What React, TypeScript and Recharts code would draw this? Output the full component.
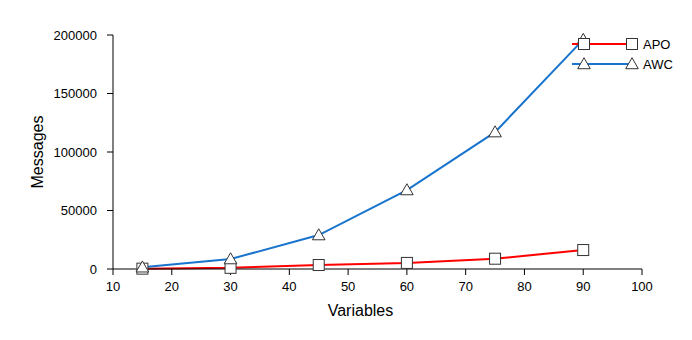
import React from 'react';
import { LineChart, Line, XAxis, YAxis, Legend } from 'recharts';

const variables = [15, 30, 45, 60, 75, 90];
const apoMessages = [300, 1000, 3400, 5200, 8800, 16200];
const awcMessages = [1500, 8500, 29000, 67500, 117000, 196000];
const xTicks = [10, 20, 30, 40, 50, 60, 70, 80, 90, 100];
const yTicks = [0, 50000, 100000, 150000, 200000];

const RED = '#ff0000';
const BLUE = '#1874cd';
const MARK = '#333333';
const FONT = '"Liberation Sans", Arial, sans-serif';

const data = variables.map((v, i) => ({ v, apo: apoMessages[i], awc: awcMessages[i] }));

function Square({ cx, cy }: any) {
  if (cx == null || cy == null) return null;
  return <rect x={cx - 5.5} y={cy - 5.5} width={11} height={11} fill="#fff" stroke={MARK} strokeWidth={1} />;
}

function Triangle({ cx, cy }: any) {
  if (cx == null || cy == null) return null;
  const s = 6.3;
  return (
    <polygon
      points={`${cx},${cy - s} ${cx - s},${cy + s * 0.75} ${cx + s},${cy + s * 0.75}`}
      fill="#fff"
      stroke={MARK}
      strokeWidth={1}
    />
  );
}

function LegendBox() {
  const rows = [
    { name: 'APO', color: RED, Mark: Square },
    { name: 'AWC', color: BLUE, Mark: Triangle },
  ];
  return (
    <svg width={120} height={40} style={{ overflow: 'visible' }}>
      {rows.map((r, i) => {
        const y = 10 + i * 20;
        return (
          <g key={r.name}>
            <line x1={6} x2={66} y1={y} y2={y} stroke={r.color} strokeWidth={2} />
            <r.Mark cx={18} cy={y} />
            <r.Mark cx={66} cy={y} />
            <text x={77} y={y + 5} fontSize={13} fontFamily={FONT} fill="#000">{r.name}</text>
          </g>
        );
      })}
    </svg>
  );
}

export default function App() {
  return (
    <div style={{ position: 'absolute', left: 0, top: 0, width: 692, height: 340, background: '#fff' }}>
      <LineChart width={692} height={340} data={data} margin={{ top: 35, right: 50, left: 0, bottom: 0 }}>
        <XAxis
          type="number"
          dataKey="v"
          domain={[10, 100]}
          ticks={xTicks}
          interval={0}
          height={71}
          stroke="#000"
          tickSize={6}
          tickMargin={7}
          tick={{ fontSize: 13, fill: '#000', fontFamily: FONT }}
          label={{ value: 'Variables', position: 'center', dx: -17, dy: 6, fontSize: 16, fill: '#000', fontFamily: FONT }}
        />
        <YAxis
          type="number"
          domain={[0, 200000]}
          ticks={yTicks}
          interval={0}
          width={113}
          stroke="#000"
          tickSize={6}
          tickMargin={10}
          tick={{ fontSize: 13, fill: '#000', fontFamily: FONT }}
          label={{ value: 'Messages', angle: -90, position: 'center', dx: -19, fontSize: 16, fill: '#000', fontFamily: FONT }}
        />
        <Legend
          layout="horizontal"
          verticalAlign="middle"
          content={() => <LegendBox />}
          wrapperStyle={{ top: 34, left: 566, width: 120, height: 40 }}
        />
        <Line
          dataKey="apo"
          stroke={RED}
          strokeWidth={2}
          dot={<Square />}
          activeDot={false}
          isAnimationActive={false}
        />
        <Line
          dataKey="awc"
          stroke={BLUE}
          strokeWidth={2}
          dot={<Triangle />}
          activeDot={false}
          isAnimationActive={false}
        />
      </LineChart>
    </div>
  );
}
